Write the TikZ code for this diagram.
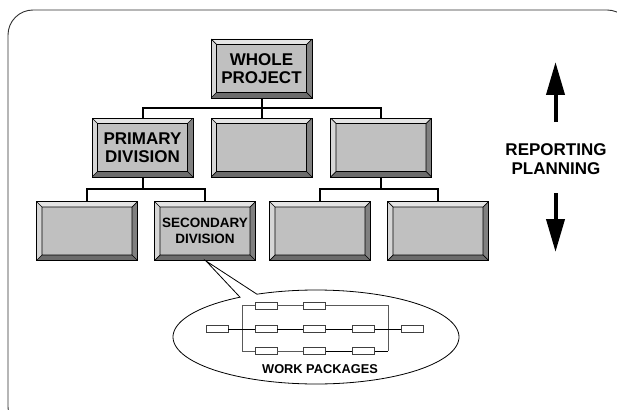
\documentclass[tikz,border=0pt]{standalone}
\usepackage{fontspec}
\setmainfont{Liberation Sans}
\usetikzlibrary{arrows.meta}

\definecolor{face}{HTML}{C0C0C0}
\definecolor{bvtop}{HTML}{E4E4E4}
\definecolor{bvleft}{HTML}{D6D6D6}
\definecolor{bvright}{HTML}{808080}
\definecolor{bvbottom}{HTML}{6C6C6C}
\definecolor{framecol}{HTML}{303030}

\tikzset{
  bevelbox/.style={
    draw=black, line width=0.9pt, fill=face,
    minimum width=101pt, minimum height=59pt, inner sep=0pt,
    align=center, font=\bfseries\fontsize{17}{18.5}\selectfont,
    path picture={
      \coordinate (NW) at (path picture bounding box.north west);
      \coordinate (NE) at (path picture bounding box.north east);
      \coordinate (SW) at (path picture bounding box.south west);
      \coordinate (SE) at (path picture bounding box.south east);
      \coordinate (nw) at ([shift={(5.5pt,-5.5pt)}]NW);
      \coordinate (ne) at ([shift={(-5.5pt,-5.5pt)}]NE);
      \coordinate (sw) at ([shift={(5.5pt,5.5pt)}]SW);
      \coordinate (se) at ([shift={(-5.5pt,5.5pt)}]SE);
      \fill[bvtop] (NW) -- (NE) -- (ne) -- (nw) -- cycle;
      \fill[bvleft] (NW) -- (nw) -- (sw) -- (SW) -- cycle;
      \fill[bvright] (NE) -- (SE) -- (se) -- (ne) -- cycle;
      \fill[bvbottom] (SW) -- (sw) -- (se) -- (SE) -- cycle;
      \draw[line width=0.7pt] (nw) rectangle (se)
        (NW) -- (nw) (NE) -- (ne) (SW) -- (sw) (SE) -- (se);
    }},
  smalltext/.style={font=\bfseries\fontsize{13.5}{15.5}\selectfont},
  tree/.style={draw=black, line width=2pt},
  wp/.style={draw=black!75, fill=white, line width=0.6pt,
    minimum width=22pt, minimum height=7pt, inner sep=0pt},
  net/.style={draw=black, line width=0.8pt},
  netgray/.style={draw=black!65, line width=0.8pt},
  bigarrow/.style={line width=4pt, -{Triangle[length=33pt, width=18pt]}},
}

\begin{document}
\begin{tikzpicture}[x=1pt, y=-1pt]
  \useasboundingbox (0,0) rectangle (617,409);
  \clip (0,0) rectangle (617,409);

  % outer rounded frame, running past the right and bottom edges
  \draw[framecol, line width=0.9pt, rounded corners=25pt] (8,10) rectangle (632,432);

  % top level
  \node[bevelbox] (whole) at (261.5,68.5) {WHOLE\\PROJECT};

  % primary level
  \node[bevelbox] (prim)  at (142.5,147.5) {PRIMARY\\DIVISION};
  \node[bevelbox] (mid)   at (261.5,147.5) {};
  \node[bevelbox] (right) at (381,147.5) {};

  % secondary level
  \node[bevelbox] (b1)  at (87,231) {};
  \node[bevelbox, smalltext] (sec) at (205,231) {SECONDARY\\DIVISION};
  \node[bevelbox] (b3)  at (320,231) {};
  \node[bevelbox] (b4)  at (438,231) {};

  % tree connectors
  \coordinate (busA) at (0,108);
  \coordinate (busB) at (0,189);
  \draw[tree] (whole.south) -- (whole.south |- busA);
  \draw[tree] (prim.north) -- (prim.north |- busA) -- (right.north |- busA) -- (right.north);
  \draw[tree] (mid.north) -- (mid.north |- busA);
  \draw[tree] (prim.south) -- (prim.south |- busB);
  \draw[tree] (b1.north) -- (b1.north |- busB) -- (sec.north |- busB) -- (sec.north);
  \draw[tree] (right.south) -- (right.south |- busB);
  \draw[tree] (b3.north) -- (b3.north |- busB) -- (b4.north |- busB) -- (b4.north);

  % callout balloon with tail pointing at the secondary division
  \coordinate (apex) at ([xshift=1pt]sec.south);
  \draw[black, line width=0.8pt, fill=white]
    plot[variable=\t, domain=245.6:597.9, samples=140]
      ({316+143*cos(\t)},{337+47*sin(\t)}) -- (apex) -- cycle;

  % work package network
  \node[wp] (a0) at (217,329) {};
  \node[wp] (a1) at (266,329) {};
  \node[wp] (a2) at (314.5,329) {};
  \node[wp] (a3) at (363.5,329) {};
  \node[wp] (a4) at (412.5,329) {};
  \node[wp] (t1) at (266,305.5) {};
  \node[wp] (t2) at (314.5,305.5) {};
  \node[wp] (u1) at (266,351) {};
  \node[wp] (u2) at (314.5,351) {};
  \node[wp] (u3) at (363.5,351) {};
  \coordinate (lt) at (242,305.5);
  \coordinate (lb) at (242,351);
  \coordinate (rt) at (388,305.5);
  \coordinate (rb) at (388,351);

  \draw[netgray] (lb) -- (lt) -- (t1.west);
  \draw[netgray] (t1.east) -- (t2.west);
  \draw[netgray] (t2.east) -- (rt) -- (rb);
  \draw[netgray] (lb) -- (u1.west);
  \draw[netgray] (u1.east) -- (u2.west);
  \draw[net] (u2.east) -- (u3.west);
  \draw[net] (u3.east) -- (rb);
  \draw[net] (a0.east) -- (a1.west);
  \draw[net] (a1.east) -- (a2.west);
  \draw[net] (a2.east) -- (a3.west);
  \draw[net] (a3.east) -- (a4.west);

  \node[font=\bfseries\fontsize{12.8}{14}\selectfont] (wplabel) at (320,369.5) {WORK PACKAGES};

  % reporting / planning direction
  \node[align=center, font=\bfseries\fontsize{17}{19}\selectfont] (rp) at (556,159.5) {REPORTING\\PLANNING};
  \coordinate (upTail) at (555.5,122);
  \coordinate (upTip) at (555.5,62);
  \coordinate (dnTail) at (555.5,193);
  \coordinate (dnTip) at (555.5,252);
  \draw[bigarrow] (upTail) -- (upTip);
  \draw[bigarrow] (dnTail) -- (dnTip);
\end{tikzpicture}
\end{document}
